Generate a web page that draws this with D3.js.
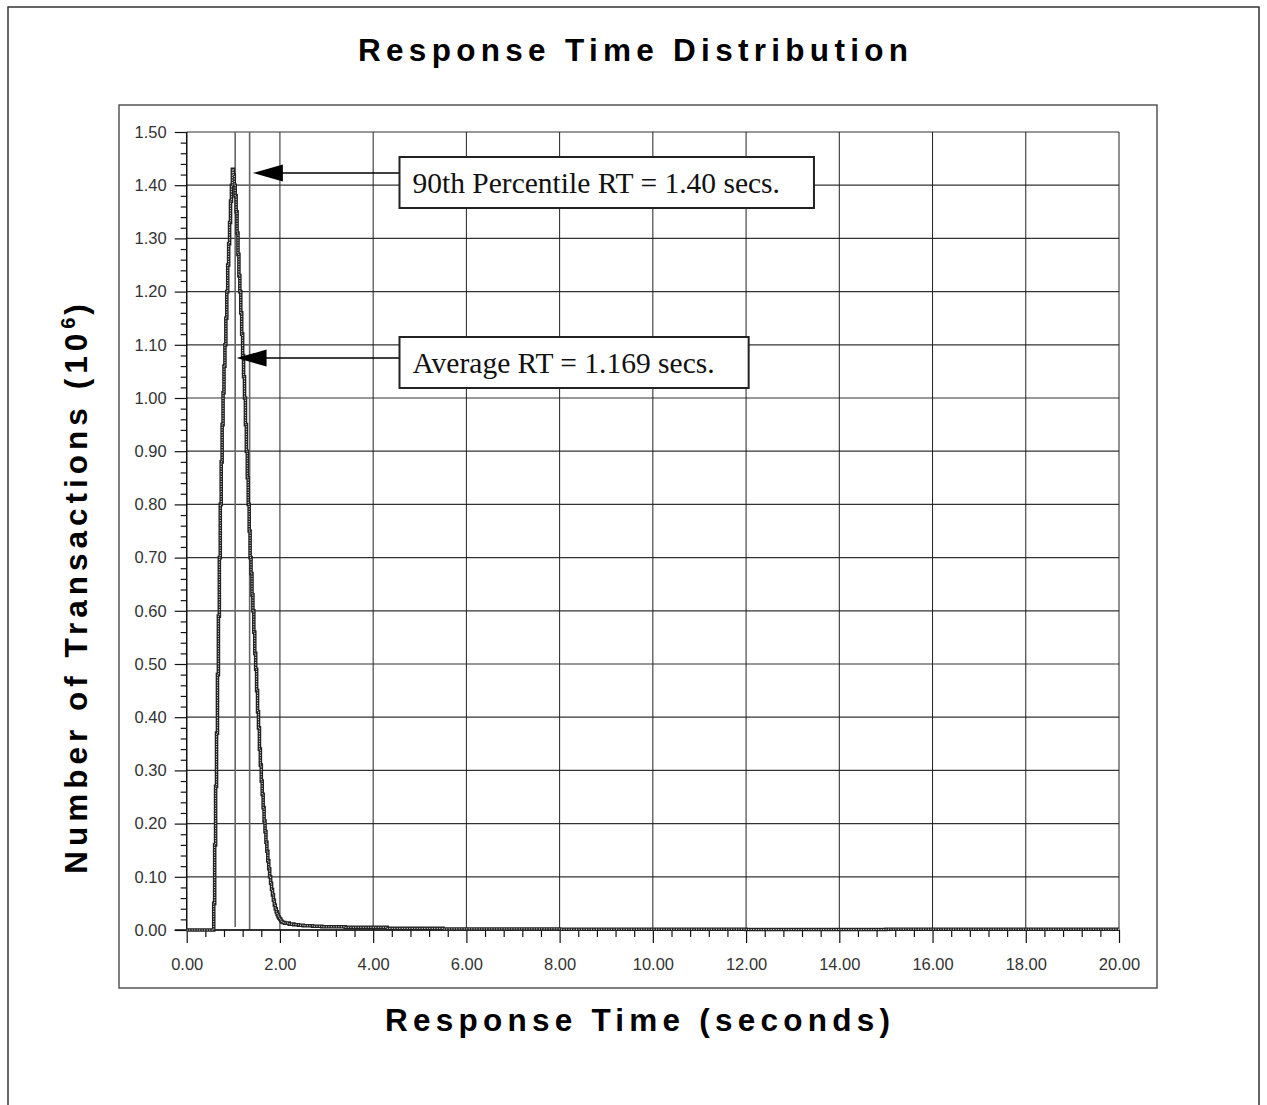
<!DOCTYPE html>
<html>
<head>
<meta charset="utf-8">
<script src="https://cdn.jsdelivr.net/npm/d3@7/dist/d3.min.js"></script>
<style>
body { margin: 0; background: #fff; }
</style>
</head>
<body>
<div id="chart"></div>
<script>
// histogram: start of each step (seconds) and transactions in that step (millions)
var rtSec = [0, 0.58, 0.60, 0.62, 0.64, 0.66, 0.68, 0.70, 0.72, 0.74, 0.76, 0.78, 0.80,
    0.82, 0.84, 0.86, 0.88, 0.90, 0.92, 0.94, 0.96, 0.98, 1.00, 1.02, 1.04, 1.06, 1.08,
    1.10, 1.12, 1.14, 1.16, 1.18, 1.20, 1.22, 1.24, 1.26, 1.28, 1.30, 1.32, 1.34, 1.36,
    1.38, 1.40, 1.42, 1.44, 1.46, 1.48, 1.50, 1.52, 1.54, 1.56, 1.58, 1.60, 1.62, 1.64,
    1.66, 1.68, 1.70, 1.72, 1.74, 1.76, 1.78, 1.80, 1.82, 1.84, 1.86, 1.88, 1.90, 1.92,
    1.94, 1.96, 1.98, 2.00, 2.02, 2.04, 2.06, 2.10, 2.20, 2.30, 2.40, 2.50, 2.70, 2.90,
    3.40, 4.30, 5.50, 8.00, 12.00, 15.00, 20.00];
var txnMillions = [0, 0.05, 0.16, 0.27, 0.37, 0.48, 0.59, 0.70, 0.80, 0.88, 0.95, 1.01, 1.06,
    1.10, 1.15, 1.20, 1.25, 1.29, 1.33, 1.37, 1.40, 1.43, 1.42, 1.40, 1.38, 1.35, 1.31,
    1.27, 1.23, 1.20, 1.16, 1.12, 1.08, 1.04, 1.00, 0.95, 0.90, 0.85, 0.80, 0.75, 0.70,
    0.67, 0.63, 0.60, 0.56, 0.52, 0.49, 0.45, 0.41, 0.38, 0.34, 0.31, 0.28, 0.255, 0.23,
    0.205, 0.185, 0.165, 0.148, 0.13, 0.115, 0.10, 0.088, 0.076, 0.066, 0.056, 0.047, 0.040, 0.034,
    0.029, 0.025, 0.022, 0.020, 0.017, 0.015, 0.014, 0.013, 0.011, 0.010, 0.009, 0.008, 0.007, 0.006,
    0.005, 0.003, 0.002, 0.0015, 0.001, 0.0015, 0.0015];

var xTicks = [0, 2, 4, 6, 8, 10, 12, 14, 16, 18, 20];
var yTicks = [0, 0.1, 0.2, 0.3, 0.4, 0.5, 0.6, 0.7, 0.8, 0.9, 1.0, 1.1, 1.2, 1.3, 1.4, 1.5];

// the two vertical marker lines (seconds)
var markerLines = [1.04, 1.35];

// annotations: text and where the arrow points (seconds, millions)
var noteLabels = ["90th Percentile RT = 1.40 secs.", "Average RT = 1.169 secs."];
var noteTipX = [1.42, 1.07];
var noteTipY = [1.423, 1.075];

var chartTitle = "Response Time Distribution";
var xTitle = "Response Time (seconds)";
var yTitle = "Number of Transactions (10";
var yTitleSup = "6";

var width = 1267;
var height = 1105;

var svg = d3.select("#chart")
    .append("svg")
    .attr("width", width)
    .attr("height", height);

// outer frame (runs past the bottom of the page)
svg.append("rect")
    .attr("x", 8).attr("y", 7)
    .attr("width", 1251).attr("height", 1120)
    .attr("fill", "none")
    .attr("stroke", "#333")
    .attr("stroke-width", 1.5);

// inner frame round the plot
svg.append("rect")
    .attr("x", 119).attr("y", 105)
    .attr("width", 1038).attr("height", 883)
    .attr("fill", "none")
    .attr("stroke", "#555")
    .attr("stroke-width", 1.5);

var x = d3.scaleLinear().domain([0, 20]).range([186.7, 1119]);
var y = d3.scaleLinear().domain([0, 1.5]).range([930, 132]);

var g = svg.append("g");

// grid
g.selectAll(".hgrid")
    .data(yTicks)
    .enter()
    .append("line")
    .attr("x1", x(0)).attr("x2", x(20))
    .attr("y1", d => y(d)).attr("y2", d => y(d))
    .attr("stroke", "#333")
    .attr("stroke-width", 1.2);

g.selectAll(".vgrid")
    .data(xTicks)
    .enter()
    .append("line")
    .attr("x1", d => x(d)).attr("x2", d => x(d))
    .attr("y1", y(0)).attr("y2", y(1.5))
    .attr("stroke", "#222")
    .attr("stroke-width", 1);

// y axis: major ticks every 0.1, minor every 0.02
var yAxis = d3.axisLeft(y)
    .tickValues(yTicks)
    .tickFormat(d3.format(".2f"))
    .tickSize(12)
    .tickPadding(8);
var yAxisG = svg.append("g")
    .attr("transform", "translate(" + x(0) + ",0)")
    .call(yAxis);

var yMinor = d3.range(0, 76).map(d => d * 0.02).filter((d, i) => i % 5 !== 0);
var yMinorG = svg.append("g")
    .attr("transform", "translate(" + x(0) + ",0)")
    .call(d3.axisLeft(y).tickValues(yMinor).tickSize(6).tickFormat(""));

// x axis: major ticks every 2, minor every 0.4
var xAxis = d3.axisBottom(x)
    .tickValues(xTicks)
    .tickFormat(d3.format(".2f"))
    .tickSize(13)
    .tickPadding(15);
var xAxisG = svg.append("g")
    .attr("transform", "translate(0," + y(0) + ")")
    .call(xAxis);

var xMinor = d3.range(0, 51).map(d => d * 0.4).filter((d, i) => i % 5 !== 0);
var xMinorG = svg.append("g")
    .attr("transform", "translate(0," + y(0) + ")")
    .call(d3.axisBottom(x).tickValues(xMinor).tickSize(7).tickFormat(""));

[yAxisG, yMinorG, xAxisG, xMinorG].forEach(function(a) {
    a.select(".domain").remove();
    a.selectAll(".tick line").attr("stroke", "#111").attr("stroke-width", 1.2);
    a.selectAll("text")
        .attr("font-family", "'Liberation Sans', Arial, sans-serif")
        .attr("font-size", 16.5)
        .attr("fill", "#333");
});

// axis lines
svg.append("line")
    .attr("x1", x(0)).attr("x2", x(0))
    .attr("y1", y(0)).attr("y2", y(1.5))
    .attr("stroke", "#111").attr("stroke-width", 1.4);
svg.append("line")
    .attr("x1", x(0) - 12).attr("x2", x(20))
    .attr("y1", y(0)).attr("y2", y(0))
    .attr("stroke", "#111").attr("stroke-width", 1.4);

// marker lines
g.selectAll(".marker")
    .data(markerLines)
    .enter()
    .append("line")
    .attr("x1", d => x(d)).attr("x2", d => x(d))
    .attr("y1", y(1.5))
    .attr("y2", (d, i) => i === 0 ? y(0) - 3 : y(0))
    .attr("stroke", "#666")
    .attr("stroke-width", 1.6);

// histogram, drawn as a hatched step line
var stepLine = d3.line()
    .x((d, i) => x(rtSec[i]))
    .y(d => y(d))
    .curve(d3.curveStepAfter);

svg.append("path")
    .attr("d", stepLine(txnMillions))
    .attr("fill", "none")
    .attr("stroke", "#222")
    .attr("stroke-width", 3.6);
svg.append("path")
    .attr("d", stepLine(txnMillions))
    .attr("fill", "none")
    .attr("stroke", "#fff")
    .attr("stroke-width", 1)
    .attr("stroke-dasharray", "1,1.5");

// annotations: arrow + boxed label
var boxTop = [157, 337];
var boxLeft = 399.5;
noteLabels.forEach(function(label, i) {
    var tx = x(noteTipX[i]);
    var ty = y(noteTipY[i]);
    svg.append("line")
        .attr("x1", tx + 28).attr("x2", boxLeft)
        .attr("y1", ty).attr("y2", ty)
        .attr("stroke", "#000")
        .attr("stroke-width", 1.5);
    svg.append("path")
        .attr("d", "M" + tx + "," + ty + "L" + (tx + 30) + "," + (ty - 8.5) + "L" + (tx + 30) + "," + (ty + 8.5) + "Z")
        .attr("fill", "#000");

    var box = svg.append("rect")
        .attr("x", boxLeft).attr("y", boxTop[i])
        .attr("height", 51)
        .attr("fill", "#fff")
        .attr("stroke", "#222")
        .attr("stroke-width", 2);
    var t = svg.append("text")
        .attr("x", boxLeft + 13)
        .attr("y", boxTop[i] + 36)
        .attr("font-family", "'Liberation Serif', 'Times New Roman', serif")
        .attr("font-size", 29.5)
        .attr("fill", "#111")
        .text(label);
    box.attr("width", t.node().getComputedTextLength() + 13 + 34);
});

// spread a text so it covers a given width, centred on cx
function spreadText(sel, target, cx) {
    var n = sel.text().length;
    var len = sel.node().getComputedTextLength();
    var ls = (target - len) / (n - 1);
    sel.attr("letter-spacing", ls)
        .attr("x", cx - target / 2);
}

var boldFont = "'Liberation Sans', Arial, sans-serif";

var title = svg.append("text")
    .attr("y", 61)
    .attr("font-family", boldFont)
    .attr("font-weight", "bold")
    .attr("font-size", 31.5)
    .text(chartTitle);
spreadText(title, 550, 633);

var xt = svg.append("text")
    .attr("y", 1031)
    .attr("font-family", boldFont)
    .attr("font-weight", "bold")
    .attr("font-size", 31.5)
    .text(xTitle);
spreadText(xt, 505, 637.5);

var yt = svg.append("text")
    .attr("transform", "translate(87,0) rotate(-90)")
    .attr("y", 0)
    .attr("font-family", boldFont)
    .attr("font-weight", "bold")
    .attr("font-size", 31.5);
yt.append("tspan").attr("class", "main").text(yTitle);
var mainLen = yt.select(".main").node().getComputedTextLength();
var ls = (540 - mainLen) / (yTitle.length - 1);
yt.select(".main").attr("letter-spacing", ls);
yt.append("tspan")
    .attr("font-size", 20)
    .attr("dy", -12)
    .text(yTitleSup);
yt.append("tspan")
    .attr("dy", 12)
    .attr("dx", 3)
    .text(")");
var ytLen = yt.node().getBBox().width;
yt.attr("x", -589 - ytLen / 2);
</script>
</body>
</html>
